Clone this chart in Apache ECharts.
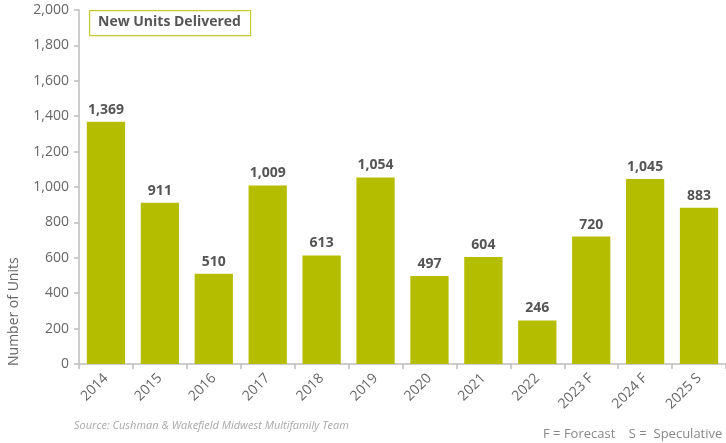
<!DOCTYPE html>
<html>
<head>
<meta charset="utf-8">
<script src="https://cdn.jsdelivr.net/npm/echarts@6/dist/echarts.min.js"></script>
<style>
  html, body { margin: 0; padding: 0; background: #fff; }
  #chart { width: 726px; height: 443px; }
</style>
</head>
<body>
<div id="chart"></div>
<script>
// Multifamily deliveries by year
const years = ['2014', '2015', '2016', '2017', '2018', '2019', '2020', '2021', '2022', '2023 F', '2024 F', '2025 S'];
const unitsDelivered = [1369, 911, 510, 1009, 613, 1054, 497, 604, 246, 720, 1045, 883];
const yTicks = [0, 200, 400, 600, 800, 1000, 1200, 1400, 1600, 1800, 2000];

const FONT = '"Open Sans", "DejaVu Sans", sans-serif';
const BAR = '#b5bd00';
const AXIS_TEXT = '#666666';

const chart = echarts.init(document.getElementById('chart'), null, { renderer: 'canvas' });

chart.setOption({
  animation: false,
  textStyle: { fontFamily: FONT },
  grid: { left: 79, right: -3, top: 10, bottom: 79, containLabel: false },
  xAxis: {
    type: 'category',
    data: years,
    axisLine: { lineStyle: { color: '#bdbdbd', width: 1.5 } },
    axisTick: { show: true, length: 5, lineStyle: { color: '#bdbdbd', width: 1.5 } },
    axisLabel: { rotate: 45, color: AXIS_TEXT, fontSize: 14, fontFamily: FONT, margin: 12 }
  },
  yAxis: {
    type: 'value',
    min: yTicks[0],
    max: yTicks[yTicks.length - 1],
    interval: 200,
    axisLine: { show: true, lineStyle: { color: '#bdbdbd', width: 1.5 } },
    axisTick: { show: true, length: 5, lineStyle: { color: '#bdbdbd', width: 1.5 } },
    splitLine: { show: false },
    axisLabel: {
      color: AXIS_TEXT, fontSize: 14, fontFamily: FONT, margin: 10,
      formatter: v => v.toLocaleString('en-US')
    }
  },
  series: [{
    type: 'bar',
    data: unitsDelivered,
    barCategoryGap: '29%',
    itemStyle: { color: BAR },
    label: {
      show: true,
      position: 'top',
      distance: 5,
      color: '#555555',
      fontSize: 14,
      fontWeight: 'bold',
      fontFamily: FONT,
      formatter: p => p.value.toLocaleString('en-US')
    }
  }],
  graphic: [
    {
      type: 'rect',
      left: 89, top: 10,
      shape: { width: 161, height: 25 },
      style: { fill: '#fff', stroke: '#c4c92e', lineWidth: 1.2 }
    },
    {
      type: 'text',
      left: 98, top: 15,
      style: { text: 'New Units Delivered', fill: '#555555', font: 'bold 14px ' + FONT }
    },
    {
      type: 'text',
      x: 7, y: 366,
      rotation: Math.PI / 2,
      style: { text: 'Number of Units', fill: AXIS_TEXT, font: '14px ' + FONT, align: 'left', verticalAlign: 'top' }
    },
    {
      type: 'text',
      left: 74, top: 420,
      style: { text: 'Source: Cushman & Wakefield Midwest Multifamily Team', fill: '#a8a8a8', font: 'italic 11px ' + FONT }
    },
    {
      type: 'text',
      left: 543, top: 428,
      style: { text: 'F = Forecast    S =  Speculative', fill: '#888888', font: '13px ' + FONT }
    }
  ]
});
</script>
</body>
</html>
